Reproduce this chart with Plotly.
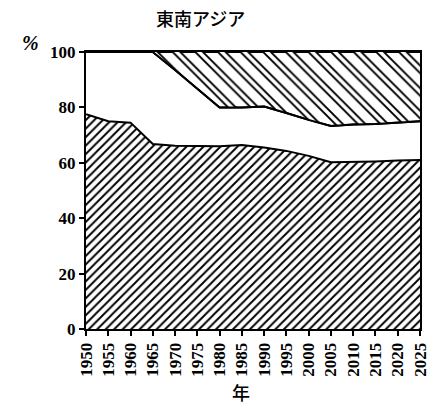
import numpy as np
import plotly.graph_objects as go

years = [1950, 1955, 1960, 1965, 1970, 1975, 1980, 1985, 1990, 1995,
         2000, 2005, 2010, 2015, 2020, 2025]
# shares (%) of the three bands, bottom to top
share_bottom = [77.5, 75.0, 74.5, 66.8, 66.2, 66.0, 66.0, 66.4, 65.5, 64.3,
                62.5, 60.2, 60.3, 60.5, 60.8, 61.0]
share_middle = [22.5, 25.0, 25.5, 33.2, 27.3, 20.6, 14.0, 13.6, 14.8, 13.7,
                13.0, 13.1, 13.5, 13.5, 13.7, 14.0]
share_top = [0.0, 0.0, 0.0, 0.0, 6.5, 13.4, 20.0, 20.0, 19.7, 22.0,
             24.5, 26.7, 26.2, 26.0, 25.5, 25.0]
tick_years = [str(y) for y in years]
y_ticks = [0, 20, 40, 60, 80, 100]

lower = np.array(share_bottom)
upper = lower + np.array(share_middle)
total = upper + np.array(share_top)

fig = go.Figure()
# bottom band
fig.add_trace(go.Scatter(
    x=years, y=lower, mode="lines", fill="tozeroy",
    line=dict(color="black", width=2),
    fillcolor="white",
    fillpattern=dict(shape="/", size=6, solidity=0.32, fgcolor="black",
                     bgcolor="white", fillmode="replace"),
    showlegend=False, hoverinfo="skip"))
# upper boundary
fig.add_trace(go.Scatter(
    x=years, y=upper, mode="lines",
    line=dict(color="black", width=2), showlegend=False, hoverinfo="skip"))
# top band (thick lines)
fig.add_trace(go.Scatter(
    x=years, y=total, mode="lines", fill="tonexty",
    line=dict(color="black", width=2),
    fillcolor="white",
    fillpattern=dict(shape="\\", size=16, solidity=0.45, fgcolor="black",
                     bgcolor="white", fillmode="replace"),
    showlegend=False, hoverinfo="skip"))
# overlay to make doubled lines
fig.add_trace(go.Scatter(
    x=years, y=upper, mode="lines",
    line=dict(color="rgba(0,0,0,0)", width=0), showlegend=False, hoverinfo="skip"))
fig.add_trace(go.Scatter(
    x=years, y=total, mode="lines", fill="tonexty",
    line=dict(color="rgba(0,0,0,0)", width=0),
    fillcolor="rgba(0,0,0,0)",
    fillpattern=dict(shape="\\", size=16, solidity=0.22, fgcolor="white",
                     bgcolor="rgba(0,0,0,0)", fillmode="replace"),
    showlegend=False, hoverinfo="skip"))
# redraw boundary lines on top
fig.add_trace(go.Scatter(
    x=years, y=upper, mode="lines",
    line=dict(color="black", width=2), showlegend=False, hoverinfo="skip"))

tick_font = dict(family="Liberation Serif", size=17, color="black", weight="bold")

L, R, T, B = 86, 10, 52, 85
W, H = 430, 414

fig.update_layout(
    width=W, height=H,
    margin=dict(l=L, r=R, t=T, b=B, autoexpand=False),
    paper_bgcolor="white", plot_bgcolor="white",
    xaxis=dict(range=[1950, 2025], tickmode="array", tickvals=years,
               ticktext=tick_years, tickangle=-90, ticks="outside",
               ticklen=5, tickwidth=1.5, tickcolor="black",
               showline=True, linecolor="black", linewidth=2, mirror=True,
               showgrid=False, zeroline=False, tickfont=tick_font),
    yaxis=dict(range=[0, 100], tickmode="array", tickvals=y_ticks,
               ticks="outside", ticklen=5, tickwidth=1.5, tickcolor="black",
               showline=True, linecolor="black", linewidth=2, mirror=True,
               showgrid=False, zeroline=False, tickfont=tick_font),
)

pw = W - L - R
ph = H - T - B
def px(x):
    return (x - L) / pw
def py(y):
    return (H - B - y) / ph

cjk = "Noto Sans CJK JP"
fig.add_annotation(text="東南アジア", x=px(200), y=py(18), xref="paper", yref="paper",
                   showarrow=False,
                   font=dict(family=cjk, size=18, color="black", weight=500),
                   xanchor="center", yanchor="middle")
fig.add_annotation(text="%", x=px(30), y=py(43), xref="paper", yref="paper",
                   showarrow=False,
                   font=dict(family="Liberation Serif", size=20, color="black",
                             style="italic", weight="bold"),
                   xanchor="center", yanchor="middle")
fig.add_annotation(text="年", x=px(241), y=py(392), xref="paper", yref="paper",
                   showarrow=False,
                   font=dict(family=cjk, size=18, color="black", weight=500),
                   xanchor="center", yanchor="middle")

fig.write_html("out.html", config={"displayModeBar": False},
               post_script="document.body.style.margin='0';document.body.style.overflow='hidden';")
